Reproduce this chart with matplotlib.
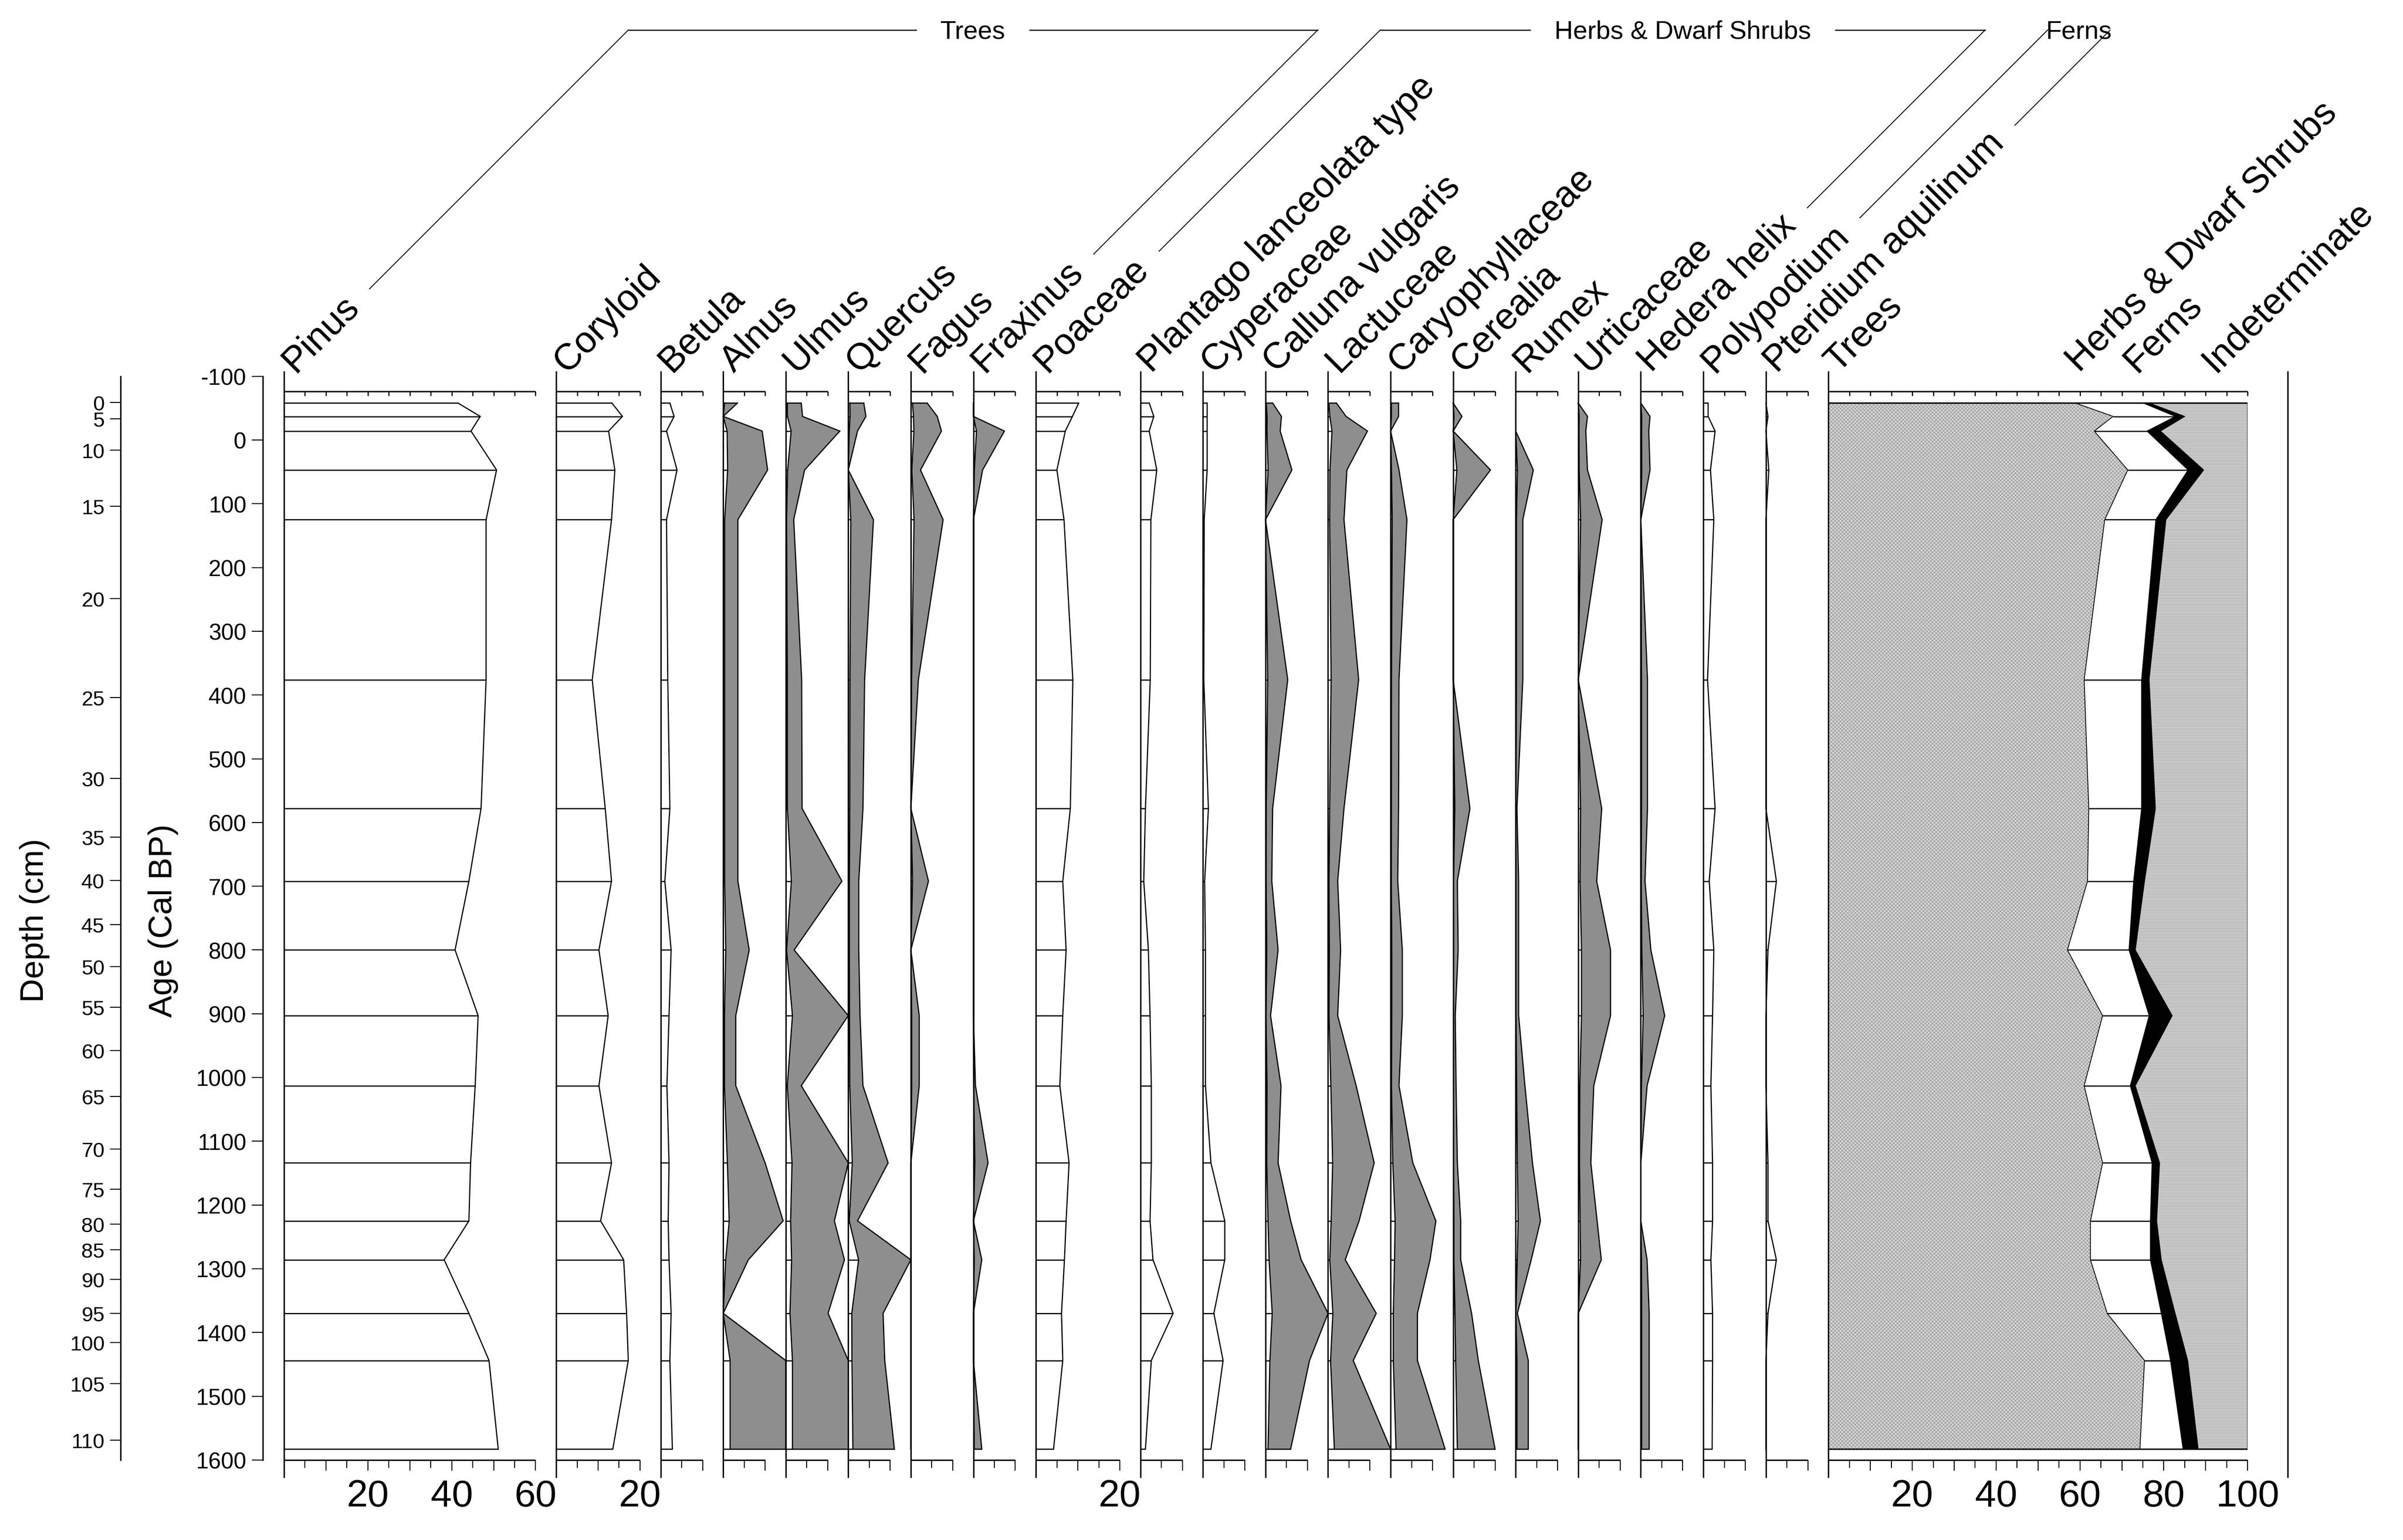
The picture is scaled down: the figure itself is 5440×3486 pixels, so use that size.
import numpy as np
import matplotlib
matplotlib.use("Agg")
import matplotlib.pyplot as plt
from matplotlib import font_manager as fm

# ---------------- data ----------------
sample_age = [-58, -37, -14, 47, 125, 376, 578, 692, 800, 903, 1013, 1134, 1225, 1286, 1370, 1444, 1583]

depth_cm = [0, 5, 10, 15, 20, 25, 30, 35, 40, 45, 50, 55, 60, 65, 70, 75, 80, 85, 90, 95, 100, 105, 110]
depth_age = [-59, -33, 16, 104, 249, 404, 531, 623, 691, 760, 826, 890, 958, 1030, 1112, 1175,
             1230, 1270, 1317, 1370, 1416, 1480, 1569]
age_ticks = list(range(-100, 1601, 100))

taxa_names = ["Pinus", "Coryloid", "Betula", "Alnus", "Ulmus", "Quercus", "Fagus", "Fraxinus",
              "Poaceae", "Plantago lanceolata type", "Cyperaceae", "Calluna vulgaris", "Lactuceae",
              "Caryophyllaceae", "Cerealia", "Rumex", "Urticaceae", "Hedera helix",
              "Polypodium", "Pteridium aquilinum"]
taxa_width = [60, 20, 10, 10, 10, 10, 10, 10, 20, 10, 10, 10, 10, 10, 10, 10, 10, 10, 10, 10]
exaggerated = ["Alnus", "Ulmus", "Quercus", "Fagus", "Fraxinus", "Calluna vulgaris", "Lactuceae",
               "Caryophyllaceae", "Cerealia", "Rumex", "Urticaceae", "Hedera helix"]
exaggeration_factor = 10

pinus = [41.5, 46.8, 44.6, 50.7, 48.2, 48.2, 47.0, 44.1, 40.8, 46.3, 45.6, 44.5, 44.1, 38.2, 44.1, 48.9, 51.1]
coryloid = [13.3, 15.8, 12.5, 14.0, 13.2, 8.6, 11.7, 13.2, 10.2, 12.4, 10.2, 13.2, 10.6, 16.1, 16.8, 17.2, 13.5]
betula = [2.2, 3.2, 1.4, 3.9, 1.4, 1.7, 2.2, 1.0, 2.5, 2.0, 1.5, 2.0, 1.8, 2.0, 2.5, 2.2, 2.8]
alnus = [0.34, 0.0, 0.93, 1.06, 0.35, 0.35, 0.35, 0.35, 0.62, 0.3, 0.3, 1.0, 1.43, 0.6, 0.0, 1.65, 1.65]
ulmus = [0.37, 0.40, 1.29, 0.45, 0.19, 0.38, 0.39, 1.34, 0.2, 1.6, 0.37, 1.5, 1.16, 1.4, 1.01, 1.6, 1.6]
quercus = [0.37, 0.42, 0.22, 0.0, 0.6, 0.39, 0.35, 0.25, 0.25, 0.28, 0.35, 0.95, 0.22, 2.45, 0.83, 0.87, 1.1]
fagus = [0.39, 0.63, 0.73, 0.23, 0.77, 0.18, 0.0, 0.42, 0.0, 0.2, 0.2, 0.0, 0.0, 0.0, 0.0, 0.0, 0.0]
fraxinus = [0.0, 0.0, 0.74, 0.22, 0.0, 0.0, 0.0, 0.0, 0.0, 0.0, 0.05, 0.35, 0.0, 0.2, 0.0, 0.0, 0.2]
poaceae = [10.2, 8.7, 7.0, 5.0, 6.7, 8.8, 8.2, 6.4, 7.2, 6.4, 5.7, 7.9, 7.2, 6.8, 6.1, 6.4, 4.2]
plantago = [2.1, 3.2, 2.1, 3.9, 2.5, 2.35, 1.2, 0.8, 1.9, 2.3, 2.6, 2.6, 2.3, 3.0, 7.8, 2.6, 1.2]
cyperaceae = [1.0, 1.0, 1.0, 1.0, 0.3, 0.2, 1.3, 0.4, 0.6, 0.6, 0.6, 1.9, 5.2, 5.2, 2.6, 4.8, 1.9]
calluna = [0.17, 0.38, 0.35, 0.63, 0.0, 0.53, 0.17, 0.15, 0.3, 0.12, 0.37, 0.3, 0.6, 0.85, 1.6, 1.05, 0.6]
lactuceae = [0.2, 0.43, 0.94, 0.45, 0.38, 0.73, 0.38, 0.23, 0.3, 0.23, 0.67, 1.1, 0.74, 0.41, 1.15, 0.6, 1.5]
caryophyllaceae = [0.19, 0.19, 0.0, 0.2, 0.39, 0.2, 0.19, 0.17, 0.28, 0.28, 0.2, 0.53, 1.08, 0.94, 0.64, 0.64, 1.3]
cerealia = [0.0, 0.21, 0.0, 0.89, 0.0, 0.0, 0.4, 0.1, 0.12, 0.05, 0.07, 0.1, 0.18, 0.18, 0.44, 0.6, 1.0]
rumex = [0.0, 0.0, 0.0, 0.42, 0.17, 0.17, 0.03, 0.07, 0.07, 0.07, 0.22, 0.4, 0.59, 0.37, 0.04, 0.3, 0.3]
urticaceae = [0.0, 0.22, 0.18, 0.22, 0.57, 0.0, 0.56, 0.44, 0.77, 0.77, 0.37, 0.3, 0.45, 0.55, 0.0, 0.0, 0.0]
hedera = [0.0, 0.22, 0.19, 0.22, 0.0, 0.16, 0.16, 0.1, 0.24, 0.57, 0.15, 0.0, 0.0, 0.15, 0.2, 0.2, 0.2]
polypodium = [1.14, 1.14, 2.8, 1.7, 2.5, 1.0, 2.8, 1.4, 2.5, 2.2, 1.8, 2.2, 2.2, 1.8, 2.2, 2.2, 2.1]
pteridium = [0.0, 0.5, 0.0, 0.7, 0.0, 0.0, 0.0, 2.5, 0.5, 0.0, 0.0, 0.5, 0.5, 2.5, 0.5, 0.0, 0.0]

taxa_values = [pinus, coryloid, betula, alnus, ulmus, quercus, fagus, fraxinus, poaceae, plantago,
               cyperaceae, calluna, lactuceae, caryophyllaceae, cerealia, rumex, urticaceae, hedera,
               polypodium, pteridium]
bottom_labels = {"Pinus": [20, 40, 60], "Coryloid": [20], "Poaceae": [20]}

summary_names = ["Trees", "Herbs & Dwarf Shrubs", "Ferns", "Indeterminate"]
summary_label_x = [2.2, 59.8, 73.5, 92.2]
trees_pct = [58.9, 67.9, 63.4, 71.4, 65.9, 61.0, 62.1, 61.8, 57.0, 65.4, 61.0, 65.4, 62.5, 62.5, 66.5, 75.4, 74.3]
herbs_pct = [16.2, 14.9, 12.6, 14.4, 12.2, 13.7, 12.6, 11.0, 14.7, 11.1, 11.0, 11.8, 14.3, 14.3, 12.9, 6.2, 10.3]
ferns_pct = [1.4, 2.2, 3.2, 3.7, 2.4, 1.8, 3.3, 2.6, 1.5, 5.5, 1.2, 1.8, 1.5, 2.6, 3.3, 4.1, 3.6]
indet_pct = [23.5, 15.0, 20.8, 10.5, 19.5, 23.5, 22.0, 24.6, 26.8, 18.0, 26.8, 21.0, 21.7, 20.6, 17.3, 14.3, 11.8]
summary_ticks = [20, 40, 60, 80, 100]

groups = [("Trees", "Pinus", "Fraxinus"),
          ("Herbs & Dwarf Shrubs", "Poaceae", "Hedera helix"),
          ("Ferns", "Polypodium", "Pteridium aquilinum")]

# ---------------- style / layout ----------------
avail = {f.name for f in fm.fontManager.ttflist}
REG = "Liberation Sans" if "Liberation Sans" in avail else "DejaVu Sans"
NARROW = "Liberation Sans Narrow" if "Liberation Sans Narrow" in avail else REG
plt.rcParams["font.family"] = [REG, "DejaVu Sans"]
plt.rcParams["hatch.linewidth"] = 0.7

W, H = 5440, 3487
DPI = 100
PX_PER_PCT = 9.49
GAP_PX = 46.7
GAP_PCT = GAP_PX / PX_PER_PCT
X0 = 643.0
AGE_MIN, AGE_MAX = -100, 1600
PY_TOP, PY_BOT = 852.7, 3305.8
AX_BOTTOM = 1 - PY_BOT / H
AX_HEIGHT = (PY_BOT - PY_TOP) / H

LW = 1.9      # curve outline (pt)
AXLW = 2.3    # axis lines (pt)
GRAY = "#8e8e8e"
LABEL_FS = 60
LABEL_DX_PX = 24

TOP_AXIS = -76
SPINE_TOP, SPINE_BOT = -108, 1628

fig = plt.figure(figsize=(W / DPI, H / DPI), dpi=DPI)
fig.patch.set_facecolor("white")

ax0 = fig.add_axes([0, 0, 1, 1], zorder=-1)
ax0.set_xlim(0, W)
ax0.set_ylim(H, 0)
ax0.axis("off")


def panel_axes(left_px, width_pct):
    ax = fig.add_axes([left_px / W, AX_BOTTOM, width_pct * PX_PER_PCT / W, AX_HEIGHT])
    ax.set_xlim(0, width_pct)
    ax.set_ylim(AGE_MAX, AGE_MIN)
    ax.axis("off")
    return ax


def frame(ax, w, labels=()):
    ax.vlines(0, SPINE_TOP, SPINE_BOT, colors="k", lw=AXLW, clip_on=False, zorder=10)
    ax.hlines(TOP_AXIS, 0, w, colors="k", lw=AXLW, clip_on=False, zorder=10)
    ax.vlines(np.arange(5, w + 0.01, 5), TOP_AXIS, TOP_AXIS + 7, colors="k", lw=AXLW * 0.8,
              clip_on=False, zorder=10)
    ax.hlines(1600, 0, w, colors="k", lw=AXLW, clip_on=False, zorder=10)
    major = np.arange(10, w + 0.01, 10)
    minor = np.arange(5, w + 0.01, 10)
    ax.vlines(major, 1600, 1617, colors="k", lw=AXLW * 0.7, clip_on=False, zorder=10)
    ax.vlines(minor, 1600, 1612.5, colors="k", lw=AXLW * 0.7, clip_on=False, zorder=10)
    for v in labels:
        ax.text(v, 1629, str(v), ha="center", va="top", fontsize=62, family=[NARROW, REG],
                clip_on=False)


ages = np.array(sample_age, dtype=float)
label_text = {}
left = X0
for name, w, vals in zip(taxa_names, taxa_width, taxa_values):
    ax = panel_axes(left, w)
    v = np.array(vals, dtype=float)
    if name in exaggerated:
        ev = np.minimum(v * exaggeration_factor, w + GAP_PCT)
        ax.fill_betweenx(ages, 0, ev, facecolor=GRAY, edgecolor="none", clip_on=False, zorder=2)
        ax.plot(ev, ages, color="k", lw=LW, clip_on=False, zorder=3, solid_joinstyle="miter")
        ax.hlines([ages[0], ages[-1]], 0, [ev[0], ev[-1]], colors="k", lw=LW, clip_on=False, zorder=3)
    ax.fill_betweenx(ages, 0, v, facecolor="white", edgecolor="none", clip_on=False, zorder=4)
    ax.plot(v, ages, color="k", lw=LW, clip_on=False, zorder=5, solid_joinstyle="miter")
    ax.hlines(ages, 0, v, colors="k", lw=LW, clip_on=False, zorder=5)
    frame(ax, w, bottom_labels.get(name, ()))
    label_text[name] = ax.text(LABEL_DX_PX / PX_PER_PCT, -105, name, rotation=45,
                               rotation_mode="anchor", ha="left", va="baseline",
                               fontsize=LABEL_FS, clip_on=False)
    left += w * PX_PER_PCT + GAP_PX

# ---------------- summary panel ----------------
axs = panel_axes(left, 100)
c1 = np.array(trees_pct)
c2 = c1 + np.array(herbs_pct)
c3 = c2 + np.array(ferns_pct)
c4 = c3 + np.array(indet_pct)
axs.fill_betweenx(ages, 0, c1, facecolor="#d6d6d6", edgecolor="#8a8a8a", hatch="xxxx",
                  lw=0, zorder=2)
axs.fill_betweenx(ages, c1, c2, facecolor="white", edgecolor="none", zorder=2)
axs.fill_betweenx(ages, c2, c3, facecolor="black", edgecolor="black", lw=0.5, zorder=2)
axs.fill_betweenx(ages, c3, c4, facecolor="#d8d8d8", edgecolor="#929292", hatch="-----",
                  lw=0, zorder=2)
axs.plot(c1, ages, color="k", lw=1.3, zorder=4)
axs.plot(c2, ages, color="k", lw=1.3, zorder=4)
axs.plot(c3, ages, color="k", lw=1.3, zorder=4)
axs.plot(c4, ages, color="k", lw=LW, zorder=4)
axs.hlines(ages, c1, c2, colors="k", lw=LW, zorder=4)
axs.hlines([ages[0], ages[-1]], 0, [c4[0], c4[-1]], colors="k", lw=AXLW, zorder=5)
frame(axs, 100, summary_ticks)
for nm, xx in zip(summary_names, summary_label_x):
    axs.text(xx, -105, nm, rotation=45, rotation_mode="anchor", ha="left", va="baseline",
             fontsize=LABEL_FS, clip_on=False)

# extra blank panel line at right
left_blank = left + 100 * PX_PER_PCT + 91
axb = panel_axes(left_blank, 5)
axb.vlines(0, SPINE_TOP, SPINE_BOT, colors="k", lw=AXLW, clip_on=False)

# ---------------- age axis ----------------
axa = fig.add_axes([595 / W, AX_BOTTOM, 0.0005, AX_HEIGHT])
axa.set_ylim(AGE_MAX, AGE_MIN)
for s in ["top", "right", "bottom"]:
    axa.spines[s].set_visible(False)
axa.spines["left"].set_linewidth(AXLW)
axa.spines["left"].set_bounds(AGE_MIN, AGE_MAX)
axa.set_xticks([])
axa.set_yticks(age_ticks)
axa.set_yticklabels([str(a) for a in age_ticks], fontsize=37, family=[NARROW, REG])
axa.tick_params(axis="y", direction="out", length=18, width=1.6, pad=9)
axa.patch.set_visible(False)

# ---------------- depth axis ----------------
axd = fig.add_axes([273 / W, AX_BOTTOM, 0.0005, AX_HEIGHT])
axd.set_ylim(AGE_MAX, AGE_MIN)
for s in ["top", "right", "bottom"]:
    axd.spines[s].set_visible(False)
axd.spines["left"].set_linewidth(AXLW)
axd.spines["left"].set_bounds(AGE_MIN, AGE_MAX)
axd.set_xticks([])
axd.set_yticks(depth_age)
axd.set_yticklabels([str(d) for d in depth_cm], fontsize=34, family=[NARROW, REG])
axd.tick_params(axis="y", direction="out", length=17, width=1.6, pad=9)
axd.patch.set_visible(False)

ax0.text(79, 2084, "Depth (cm)", rotation=90, ha="center", va="center", fontsize=54)
ax0.text(370, 2084, "Age (Cal BP)", rotation=90, ha="center", va="center", fontsize=54)

# ---------------- group headers ----------------
fig.canvas.draw()
ren = fig.canvas.get_renderer()
HEAD_PY = 69
for gname, first, last in groups:
    b1 = label_text[first].get_window_extent(ren)
    b2 = label_text[last].get_window_extent(ren)
    sx1, sy1 = b1.x1 + 10, H - b1.y1
    sx2, sy2 = b2.x1 + 10, H - b2.y1
    cx1 = sx1 + (sy1 - HEAD_PY)
    cx2 = sx2 + (sy2 - HEAD_PY)
    ax0.plot([sx1, cx1], [sy1, HEAD_PY], color="k", lw=1.5)
    ax0.plot([sx2, cx2], [sy2, HEAD_PY], color="k", lw=1.5)
    t = ax0.text((cx1 + cx2) / 2, HEAD_PY + 3, gname, ha="center", va="center", fontsize=42)
    tb = t.get_window_extent(ren)
    tl, tr = tb.x0 - 55, tb.x1 + 55
    if tl > cx1:
        ax0.plot([cx1, tl], [HEAD_PY, HEAD_PY], color="k", lw=1.8)
    if tr < cx2:
        ax0.plot([tr, cx2], [HEAD_PY, HEAD_PY], color="k", lw=1.8)

fig.savefig("out.png", dpi=DPI, facecolor="white")
